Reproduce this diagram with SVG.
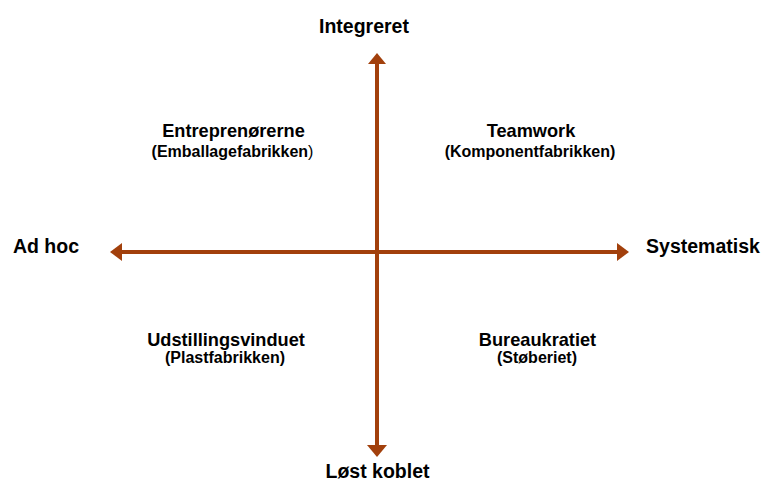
<svg xmlns="http://www.w3.org/2000/svg" width="763" height="482" viewBox="0 0 763 482">
<style>
text{font-family:"Liberation Sans",Arial,Helvetica,sans-serif;font-weight:bold;fill:#000;text-anchor:middle}
.ax{font-size:19.5px}
.h{font-size:18.2px}
.s{font-size:16px}
.axis{stroke:#A2400C;stroke-width:4;fill:none}
.head{fill:#A2400C}
</style>
<rect width="763" height="482" fill="#fff"/>
<g id="connectors">
<line class="axis" x1="377" y1="60" x2="377" y2="448"/>
<line class="axis" x1="118" y1="252" x2="621" y2="252"/>
<polygon class="head" points="377,53 368,64 386,64"/>
<polygon class="head" points="377,457 367,445 387,445"/>
<polygon class="head" points="110,252 122,243 122,261"/>
<polygon class="head" points="629,252 617,243 617,261"/>
</g>
<g id="axis-top"><text class="ax" x="364" y="33">Integreret</text></g>
<g id="axis-bottom"><text class="ax" x="377.5" y="478">Løst koblet</text></g>
<g id="axis-left"><text class="ax" x="46" y="253">Ad hoc</text></g>
<g id="axis-right"><text class="ax" x="703" y="253">Systematisk</text></g>
<g id="q-top-left">
<text class="h" x="233.5" y="137">Entreprenørerne</text>
<text class="s" x="232.5" y="157">(Emballagefabrikken<tspan font-weight="normal">)</tspan></text>
</g>
<g id="q-top-right">
<text class="h" x="531" y="137">Teamwork</text>
<text class="s" x="530" y="157">(Komponentfabrikken)</text>
</g>
<g id="q-bottom-left">
<text class="h" x="226" y="346">Udstillingsvinduet</text>
<text class="s" x="225" y="363">(Plastfabrikken)</text>
</g>
<g id="q-bottom-right">
<text class="h" x="537.5" y="346">Bureaukratiet</text>
<text class="s" x="537" y="363">(Støberiet)</text>
</g>
</svg>
